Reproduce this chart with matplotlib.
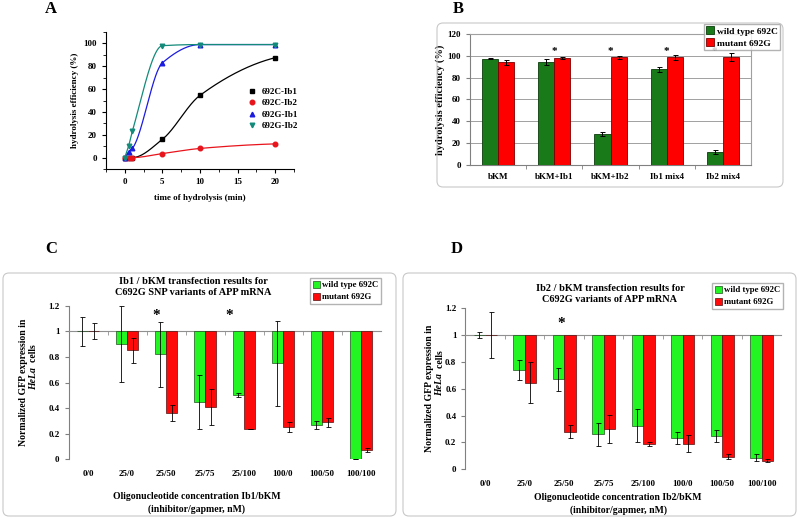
import numpy as np
import matplotlib
matplotlib.use("Agg")
import matplotlib.pyplot as plt
from matplotlib.patches import FancyBboxPatch
from matplotlib.lines import Line2D
from matplotlib.ticker import MultipleLocator

plt.rcParams["font.family"] = ["Liberation Serif", "DejaVu Serif"]
plt.rcParams["font.weight"] = "bold"
plt.rcParams["axes.labelweight"] = "bold"

# ---- panel A: hydrolysis kinetics
t_min = [0, 0.5, 1, 5, 10, 20]
c_ib1 = [0, 0, 0, 16, 54.5, 87.5]
c_ib2 = [0, 0, 0, 3.5, 8, 12]
g_ib1 = [0, 5, 8, 83, 99, 99]
g_ib2 = [0, 10, 23, 98, 99, 99]

# ---- panel B: hydrolysis efficiency
b_cats = ["bKM", "bKM+Ib1", "bKM+Ib2", "Ib1 mix4", "Ib2 mix4"]
b_wt = [97.5, 94.5, 28.5, 87.5, 12]
b_wt_err = [0.5, 2.5, 2, 2.5, 1.5]
b_mut = [94, 98, 98.5, 98.5, 99]
b_mut_err = [2, 1, 1.5, 2.5, 4]

# ---- panels C and D: normalized GFP expression
conc = ["0/0", "25/0", "25/50", "25/75", "25/100", "100/0", "100/50", "100/100"]
c_wt = [1, 0.90, 0.82, 0.445, 0.505, 0.75, 0.27, 0.0]
c_wt_err = [0.115, 0.297, 0.255, 0.21, 0.016, 0.33, 0.033, 0]
c_mut = [1, 0.85, 0.36, 0.41, 0.235, 0.25, 0.29, 0.07]
c_mut_err = [0.062, 0.095, 0.063, 0.14, 0, 0.04, 0.035, 0.015]
d_wt = [1, 0.74, 0.67, 0.26, 0.325, 0.23, 0.25, 0.087]
d_wt_err = [0.025, 0.077, 0.088, 0.088, 0.123, 0.045, 0.043, 0.028]
d_mut = [1, 0.645, 0.28, 0.30, 0.19, 0.19, 0.095, 0.065]
d_mut_err = [0.17, 0.152, 0.05, 0.107, 0.017, 0.062, 0.018, 0.012]

W, H = 800, 519
fig = plt.figure(figsize=(8, 5.19), dpi=100)


def fx(x, y):
    return x / W, 1 - y / H


def rect(l, t, r, b):
    return [l / W, 1 - b / H, (r - l) / W, (b - t) / H]


def pchip(x, y, xs):
    # monotone cubic through the measured points, for the smooth fit lines
    x = np.asarray(x, float); y = np.asarray(y, float)
    h = np.diff(x); d = np.diff(y) / h
    m = np.zeros_like(y)
    for k in range(1, len(x) - 1):
        if d[k - 1] * d[k] > 0:
            w1 = 2 * h[k] + h[k - 1]; w2 = h[k] + 2 * h[k - 1]
            m[k] = (w1 + w2) / (w1 / d[k - 1] + w2 / d[k])
    m[0] = d[0]; m[-1] = d[-1] * 0.5
    i = np.clip(np.searchsorted(x, xs) - 1, 0, len(h) - 1)
    s = (xs - x[i]) / h[i]
    return ((2 * s**3 - 3 * s**2 + 1) * y[i] + (s**3 - 2 * s**2 + s) * h[i] * m[i]
            + (-2 * s**3 + 3 * s**2) * y[i + 1] + (s**3 - s**2) * h[i] * m[i + 1])


# rounded frames around B, C, D
for l, t, r, b in [(437, 23, 783, 187), (3, 273, 396, 516), (403, 273, 796, 516)]:
    fig.patches.append(FancyBboxPatch(((l + 6) / 100, (H - b + 6) / 100), (r - l - 12) / 100, (b - t - 12) / 100,
                                      boxstyle="round,pad=0.06", transform=fig.dpi_scale_trans,
                                      fc="none", ec="#c8c8c8", lw=0.8))

for letter, x, y in [("A", 51, 9), ("B", 458, 9), ("C", 51, 249), ("D", 457, 249)]:
    fig.text(*fx(x, y), letter, fontsize=12, ha="center", va="center")

# ---------------- A
axA = fig.add_axes(rect(106, 32, 294, 169))
xs = np.linspace(0, 20, 400)
series = [(c_ib1, "black", "s", "692C-Ib1"), (c_ib2, "#e8141c", "o", "692C-Ib2"),
          (g_ib1, "#1c1ce0", "^", "692G-Ib1"), (g_ib2, "#138a7a", "v", "692G-Ib2")]
handles = []
for vals, col, mk, lab in series:
    axA.plot(xs, pchip(t_min, vals, xs), color=col, lw=0.9)
    axA.plot(t_min, vals, mk, color=col, ms=3.3, ls="none")
    handles.append(Line2D([], [], marker=mk, color=col, ls="none", ms=3.3, label=lab))
axA.set_xlim(-2.5, 22.5)
axA.set_ylim(-10, 110)
axA.xaxis.set_minor_locator(MultipleLocator(2.5))
axA.yaxis.set_minor_locator(MultipleLocator(10))
axA.set_xticks([0, 5, 10, 15, 20])
axA.set_yticks([0, 20, 40, 60, 80, 100])
axA.tick_params(labelsize=6.5, length=3, width=0.8)
axA.tick_params(which="minor", length=2, width=0.6)
for s in ["top", "right"]:
    axA.spines[s].set_visible(False)
axA.set_xlabel("time of hydrolysis (min)", fontsize=6.5, labelpad=6)
axA.set_ylabel("hydrolysis efficiency (%)", fontsize=6.5, labelpad=3)
axA.legend(handles=handles, loc="upper left", bbox_to_anchor=fx(239, 84), bbox_transform=fig.transFigure,
           frameon=False, fontsize=6.5, handletextpad=0.1, labelspacing=0.35, borderaxespad=0)

# ---------------- B
axB = fig.add_axes(rect(470, 34, 751, 165))
xb = np.arange(len(b_cats))
bw = 0.285
ek = dict(ecolor="black", elinewidth=0.7, capsize=1.8, capthick=0.7)
axB.bar(xb - bw / 2, b_wt, bw, yerr=b_wt_err, color="#187a18", ec="#0c3c0c", lw=0.6,
        error_kw=ek, label="wild type 692C", zorder=3)
axB.bar(xb + bw / 2, b_mut, bw, yerr=b_mut_err, color="#ff0000", ec="#7a0000", lw=0.6,
        error_kw=ek, label="mutant 692G", zorder=3)
for i in range(1, len(b_cats)):
    axB.text(i - (0.15 if i == 4 else 0), 104, "*", ha="center", va="center", fontsize=8)
axB.set_xlim(-0.5, len(b_cats) - 0.5)
axB.set_ylim(0, 120)
axB.set_yticks(range(0, 121, 20))
axB.yaxis.grid(True, color="#a0a0a0", lw=0.7)
axB.set_axisbelow(True)
axB.set_xticks(xb, b_cats)
axB.set_xticks(np.arange(0.5, len(b_cats) - 0.5), minor=True)
axB.tick_params(axis="x", which="major", length=0, labelsize=6.5, pad=6)
axB.tick_params(axis="x", which="minor", length=3, color="#808080")
axB.tick_params(axis="y", labelsize=6.5, length=3, color="#808080")
for s in ["top", "right"]:
    axB.spines[s].set_color("#a0a0a0")
for s in ["left", "bottom"]:
    axB.spines[s].set_color("#808080")
axB.set_ylabel("hydrolysis efficiency (%)", fontsize=7.5, labelpad=2)
axB.legend(loc="upper right", bbox_to_anchor=fx(780, 24), bbox_transform=fig.transFigure,
           fontsize=6.8, fancybox=False, edgecolor="#a0a0a0", borderaxespad=0, handlelength=0.8,
           handleheight=0.9, handletextpad=0.3, borderpad=0.25, labelspacing=0.3)


# ---------------- C and D
def gfp_panel(box, wt, wt_err, mut, mut_err, title, title_xy, xlabel, xlabel_xy, ylab_x, leg_xy, stars):
    ax = fig.add_axes(rect(*box))
    x = np.arange(len(conc))
    w = 0.29
    ekw = dict(ecolor="black", elinewidth=0.6, capsize=1.8, capthick=0.6)
    wt = np.array(wt); mut = np.array(mut)
    ax.bar(x - w / 2, wt - 1, w, bottom=1, yerr=wt_err, color="#22f522", ec="#205020", lw=0.5,
           error_kw=ekw, label="wild type 692C", zorder=3)
    ax.bar(x + w / 2, mut - 1, w, bottom=1, yerr=mut_err, color="#ff0a0a", ec="#501010", lw=0.5,
           error_kw=ekw, label="mutant 692G", zorder=3)
    for i, off, yv in stars:
        ax.text(i + off, yv, "*", ha="center", va="center", fontsize=11)
    ax.set_xlim(-0.5, len(conc) - 0.5)
    ax.set_ylim(0, 1.2)
    ax.set_yticks([0, 0.2, 0.4, 0.6, 0.8, 1, 1.2], ["0", "0.2", "0.4", "0.6", "0.8", "1", "1.2"])
    ax.tick_params(axis="y", labelsize=6.5, length=3, color="#808080")
    ax.spines["left"].set_color("#808080")
    ax.spines["bottom"].set_position(("data", 1))
    ax.spines["bottom"].set_color("#909090")
    for s in ["top", "right"]:
        ax.spines[s].set_visible(False)
    ax.set_xticks(x)
    ax.set_xticks(np.arange(0.5, len(conc) - 0.5), minor=True)
    ax.tick_params(axis="x", which="major", length=0, labelbottom=False)
    ax.tick_params(axis="x", which="minor", length=3, color="#909090")
    sec = ax.secondary_xaxis("bottom")
    sec.set_xticks(x, conc)
    sec.tick_params(length=0, labelsize=6.5, pad=8)
    sec.spines["bottom"].set_visible(False)
    fig.text(*fx(*title_xy), title, ha="center", va="center", fontsize=7.4, linespacing=1.3)
    fig.text(*fx(*xlabel_xy), xlabel, ha="center", va="center", fontsize=7, linespacing=1.5)
    yc = (box[1] + box[3]) / 2
    fig.text(*fx(ylab_x, yc), "Normalized GFP expression in", rotation=90,
             ha="center", va="center", fontsize=7)
    hela = fig.text(*fx(ylab_x + 10, yc - 4), "HeLa", rotation=90, style="italic",
                    ha="center", va="center", fontsize=7)
    ax.annotate("  cells", xy=(0.5, 1.0), xycoords=hela, rotation=90, ha="center", va="bottom",
                fontsize=7, annotation_clip=False)
    ax.legend(loc="upper right", bbox_to_anchor=fx(*leg_xy), bbox_transform=fig.transFigure,
              fontsize=6.3, fancybox=False, edgecolor="#a0a0a0", borderaxespad=0, handlelength=0.8,
              handleheight=0.9, handletextpad=0.3, borderpad=0.3, labelspacing=0.4)
    return ax


gfp_panel((68.5, 305.7, 380.5, 459.3), c_wt, c_wt_err, c_mut, c_mut_err,
          "Ib1 / bKM transfection results for\nC692G SNP variants of APP mRNA", (193, 287),
          "Oligonucleotide concentration Ib1/bKM\n(inhibitor/gapmer, nM)", (197, 503), 24, (381, 278),
          [(2, -0.24, 1.12), (4, -0.38, 1.12)])
gfp_panel((465.3, 308.3, 781.3, 469.3), d_wt, d_wt_err, d_mut, d_mut_err,
          "Ib2 / bKM transfection results for\nC692G variants of APP mRNA", (610, 294),
          "Oligonucleotide concentration Ib2/bKM\n(inhibitor/gapmer, nM)", (618, 504), 430, (783, 283),
          [(2, -0.08, 1.085)])

fig.savefig("out.png", dpi=100)
